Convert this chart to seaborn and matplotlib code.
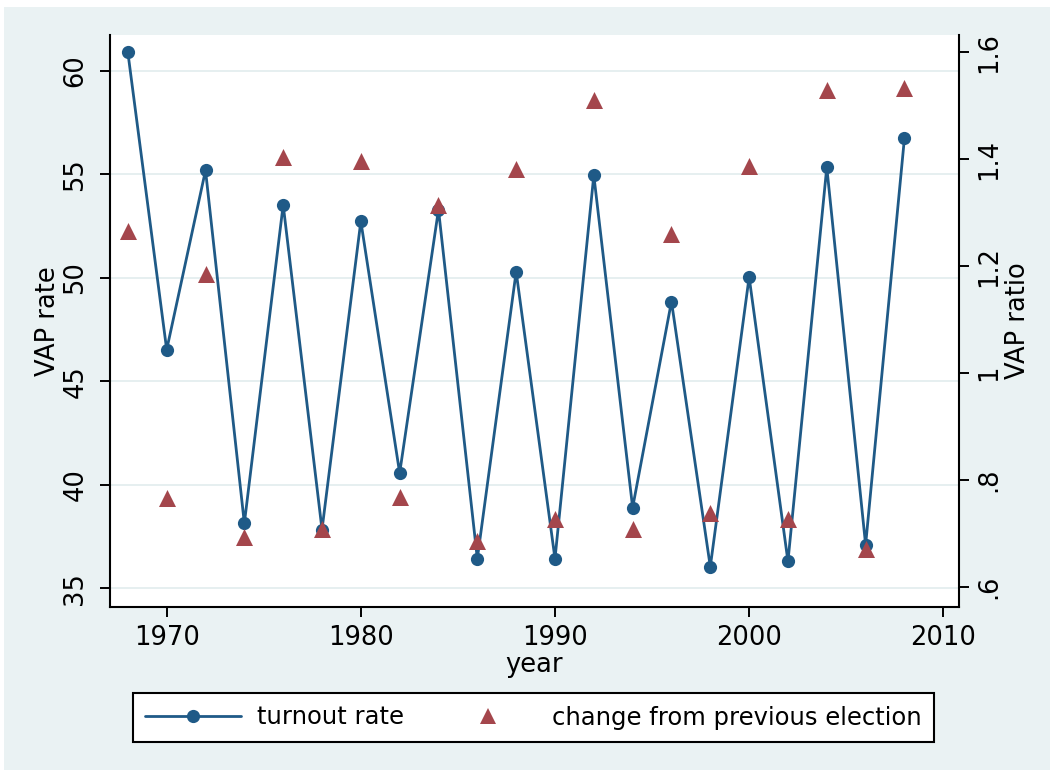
import matplotlib
matplotlib.use("Agg")
import matplotlib.pyplot as plt
from matplotlib.patches import Rectangle
from matplotlib.lines import Line2D
import seaborn as sns
import pandas as pd

# ---- data ----
years = [1968, 1970, 1972, 1974, 1976, 1978, 1980, 1982, 1984, 1986, 1988,
         1990, 1992, 1994, 1996, 1998, 2000, 2002, 2004, 2006, 2008]
turnout_rate = [60.90, 46.53, 55.20, 38.14, 53.53, 37.84, 52.74, 40.57, 53.30, 36.43, 50.30,
                36.43, 54.96, 38.90, 48.86, 36.04, 50.04, 36.30, 55.35, 37.10, 56.76]
vap_ratio = [1.266, 0.767, 1.185, 0.694, 1.404, 0.709, 1.396, 0.769, 1.315, 0.687, 1.381,
             0.727, 1.510, 0.709, 1.261, 0.739, 1.388, 0.727, 1.529, 0.672, 1.533]

x_ticks = [1970, 1980, 1990, 2000, 2010]
left_ticks = [35, 40, 45, 50, 55, 60]
left_labels = ["35", "40", "45", "50", "55", "60"]
right_ticks = [0.6, 0.8, 1.0, 1.2, 1.4, 1.6]
right_labels = [".6", ".8", "1", "1.2", "1.4", "1.6"]
series_names = ["turnout rate", "change from previous election"]

df = pd.DataFrame({"year": years, "turnout": turnout_rate, "ratio": vap_ratio})

# ---- style ----
sns.set_style("ticks")
plt.rcParams["font.family"] = ["DejaVu Sans"]
plt.rcParams["text.color"] = "black"
plt.rcParams["axes.labelcolor"] = "black"
plt.rcParams["xtick.color"] = "black"
plt.rcParams["ytick.color"] = "black"
FS = 18.5
LFS = 17.5
BG = "#EAF2F3"
LINE_C = "#1F5A87"
TRI_C = "#A4464C"

W, H = 1053, 774
fig = plt.figure(figsize=(W / 100, H / 100), dpi=100, facecolor="white")
fig.patches.append(Rectangle((4 / W, 4 / H), (1050 - 4) / W, (767 - 4) / H,
                             transform=fig.transFigure, facecolor=BG,
                             edgecolor="none", zorder=-10))

L, R, T, B = 110, 959, 35, 606.7
ax = fig.add_axes([L / W, 1 - B / H, (R - L) / W, (B - T) / H])
ax.set_facecolor("white")

sns.lineplot(data=df, x="year", y="turnout", ax=ax, color=LINE_C, marker="o",
             markersize=9.5, markeredgewidth=0, linewidth=2.0, legend=False,
             zorder=3)

ax2 = ax.twinx()
sns.scatterplot(data=df, x="year", y="ratio", ax=ax2, marker="^", s=150,
                color=TRI_C, linewidth=0, legend=False, zorder=4)

# axes limits
ax.set_xlim(1967.08, 2010.81)
ax.set_ylim(34.11, 61.74)
ax2.set_ylim(0.5637, 1.632)

# ticks
ax.set_xticks(x_ticks)
ax.set_xticklabels([str(v) for v in x_ticks], fontsize=FS, color="black")
ax.set_yticks(left_ticks)
ax.set_yticklabels(left_labels, fontsize=FS, rotation=90, va="center", color="black")
ax2.set_yticks(right_ticks)
ax2.set_yticklabels(right_labels, fontsize=FS, rotation=90, va="center", color="black")

ax.tick_params(axis="x", direction="out", length=7.5, width=1.4, pad=6, colors="black")
ax.tick_params(axis="y", direction="out", length=7.5, width=1.4, pad=8, colors="black")
ax2.tick_params(axis="y", direction="out", length=7.5, width=1.4, pad=5, colors="black")

ax.grid(False)
ax.yaxis.grid(True, color="#E6EFF0", linewidth=1.4)
ax.set_axisbelow(True)

for s in ["top", "right"]:
    ax.spines[s].set_visible(False)
for s in ["left", "bottom"]:
    ax.spines[s].set_linewidth(1.5)
    ax.spines[s].set_color("black")
for s in ["top", "left", "bottom"]:
    ax2.spines[s].set_visible(False)
ax2.spines["right"].set_linewidth(1.5)
ax2.spines["right"].set_color("black")

ax.set_xlabel("year", fontsize=FS, labelpad=0.5, color="black")
ax.set_ylabel("VAP rate", fontsize=FS, labelpad=1, color="black")
ax2.set_ylabel("VAP ratio", fontsize=FS, labelpad=2, color="black")

# legend
handles = [
    Line2D([], [], color=LINE_C, marker="o", markersize=9.5, markeredgewidth=0, linewidth=2.0),
    Line2D([], [], color=TRI_C, marker="^", markersize=12.2, markeredgewidth=0, linestyle="none"),
]
leg = fig.legend(handles, series_names, loc="center", ncol=2, mode="expand",
                 bbox_to_anchor=(133 / W, 1 - 742.7 / H, (934 - 133) / W, (742.7 - 692.3) / H),
                 fontsize=LFS, frameon=True, fancybox=False, shadow=False,
                 handlelength=3.95, handletextpad=0.65, borderpad=0.5,
                 borderaxespad=0, columnspacing=1.0, labelcolor="black")
leg.get_frame().set_edgecolor("black")
leg.get_frame().set_linewidth(1.5)
leg.get_frame().set_facecolor("white")
leg.get_frame().set_alpha(1)

fig.savefig("out.png", dpi=100, facecolor=fig.get_facecolor())
